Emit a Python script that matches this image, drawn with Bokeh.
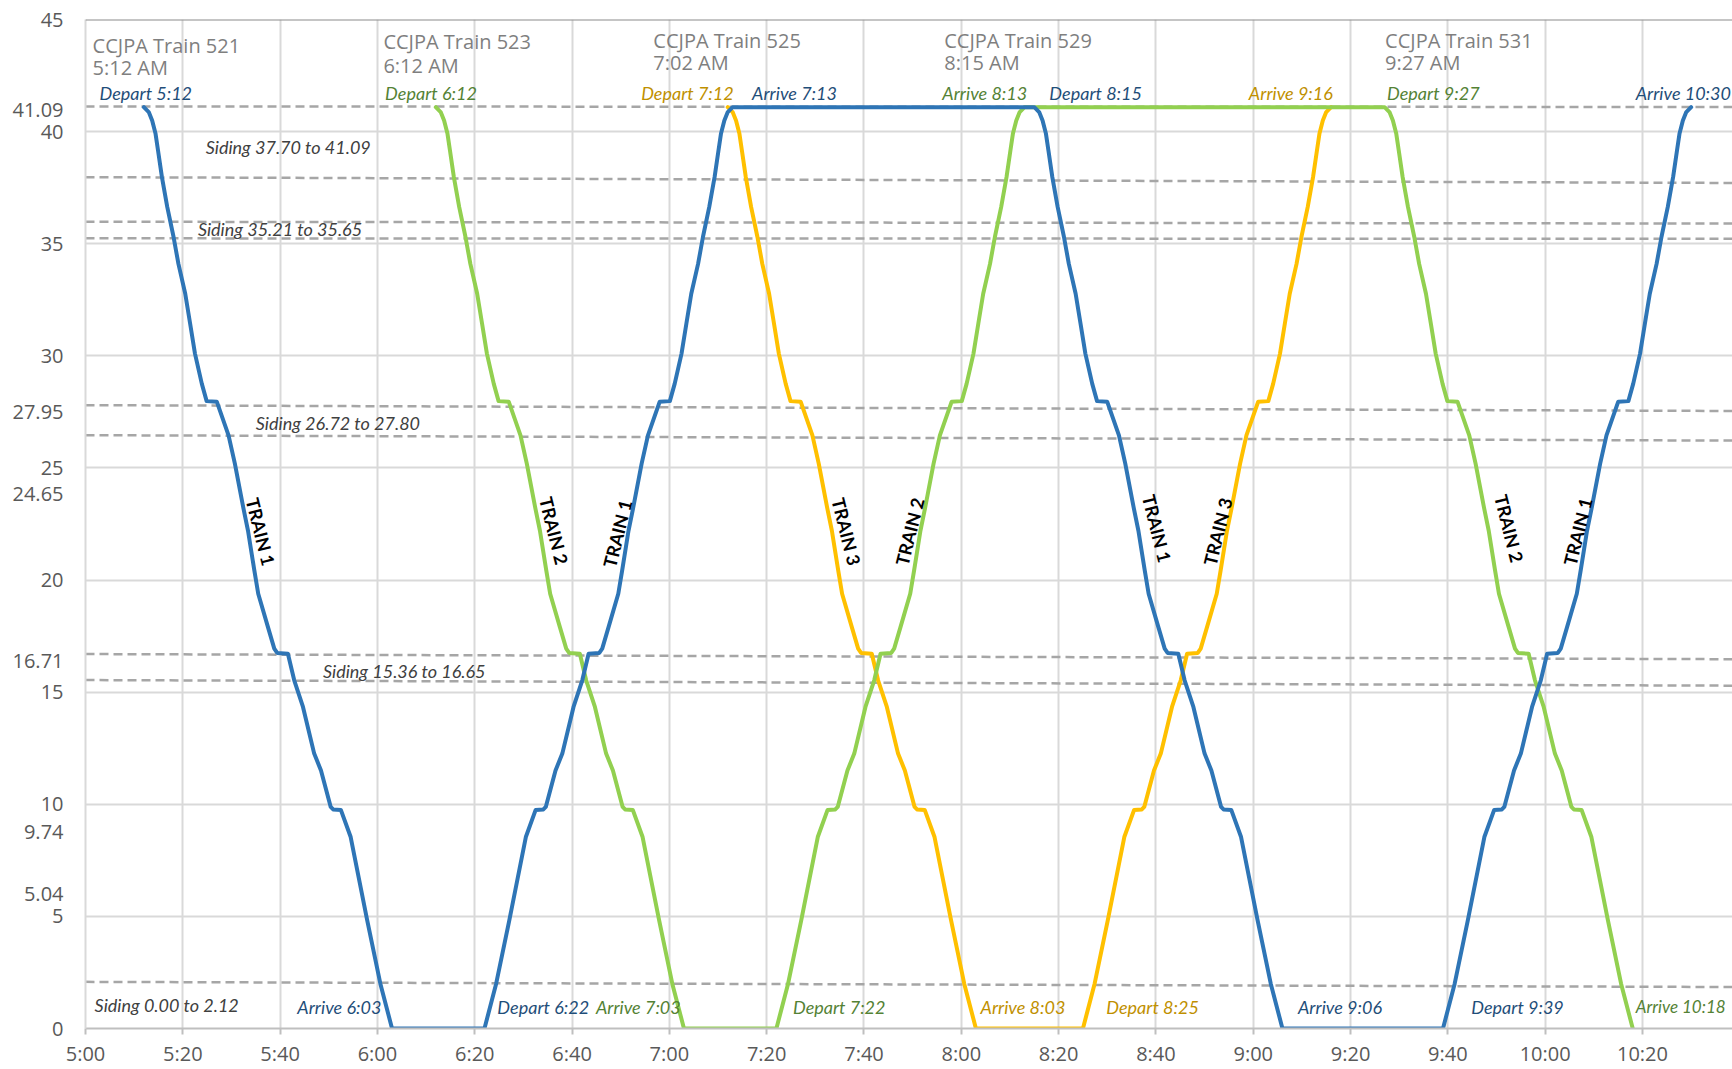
from bokeh.plotting import figure
from bokeh.models import FixedTicker, Span, Range1d, ColumnDataSource
from bokeh.core.properties import value
from bokeh.embed import file_html
from bokeh.resources import INLINE
import math

# ---------------- DATA ----------------
# x axis: minutes after 5:00 AM
x_tick_labels = ["5:00", "5:20", "5:40", "6:00", "6:20", "6:40", "7:00", "7:20", "7:40",
                 "8:00", "8:20", "8:40", "9:00", "9:20", "9:40", "10:00", "10:20"]
y_tick_values = [0, 5, 10, 15, 20, 25, 30, 35, 40, 45]
station_mileposts = ["41.09", "27.95", "24.65", "16.71", "9.74", "5.04"]

# One southbound run (minutes after departure, milepost)
run_minutes = [0, 1.0, 1.7, 2.4, 2.9, 3.7, 4.8, 6.1, 7.1, 8.5, 9.5, 10.5, 11.9, 12.9, 15.0,
               17.4, 18.7, 20.4, 21.4, 22.7, 23.5, 25.5, 26.8, 27.4, 29.6, 30.9, 32.7, 35.0,
               36.4, 38.4, 38.9, 40.5, 42.5, 45.9, 48.6, 51.0]
run_milepost = [41.09, 40.87, 40.50, 39.90, 39.17, 37.98, 36.64, 35.30, 34.10, 32.77, 31.44,
                30.10, 28.76, 27.98, 27.95, 26.45, 25.19, 23.26, 22.20, 20.43, 19.39, 17.90,
                16.94, 16.75, 16.71, 15.53, 14.34, 12.26, 11.51, 9.88, 9.77, 9.74, 8.54, 4.82,
                2.00, 0.00]

train_names = ["TRAIN 1", "TRAIN 2", "TRAIN 3"]
train1_departures = ["5:12", "6:22", "8:15", "9:39"]
train1_directions = ["down", "up", "down", "up"]
train2_departures = ["6:12", "7:22", "9:27"]
train2_directions = ["down", "up", "down"]
train3_departures = ["7:12", "8:25"]
train3_directions = ["down", "up"]

# siding lines as drawn: milepost at 5:00 and at right edge
siding_at_start = [41.12, 37.97, 35.98, 35.24, 27.80, 26.46, 16.70, 15.54, 2.08]
siding_at_end = [41.10, 37.71, 35.90, 35.22, 27.54, 26.22, 16.47, 15.29, 1.85]
siding_names = ["Siding 37.70 to 41.09", "Siding 35.21 to 35.65", "Siding 26.72 to 27.80",
                "Siding 15.36 to 16.65", "Siding 0.00 to 2.12"]

ccjpa_trains = ["CCJPA Train 521", "CCJPA Train 523", "CCJPA Train 525", "CCJPA Train 529",
                "CCJPA Train 531"]
ccjpa_times = ["5:12 AM", "6:12 AM", "7:02 AM", "8:15 AM", "9:27 AM"]

event_texts = ["Depart 5:12", "Depart 6:12", "Depart 7:12", "Arrive 7:13", "Arrive 8:13",
               "Depart 8:15", "Arrive 9:16", "Depart 9:27", "Arrive 10:30",
               "Arrive 6:03", "Depart 6:22", "Arrive 7:03", "Depart 7:22", "Arrive 8:03",
               "Depart 8:25", "Arrive 9:06", "Depart 9:39", "Arrive 10:18"]
event_train = [1, 2, 3, 1, 2, 1, 3, 2, 1, 1, 1, 2, 2, 3, 3, 1, 1, 2]

train_label_names = ["TRAIN 1", "TRAIN 2", "TRAIN 1", "TRAIN 3", "TRAIN 2", "TRAIN 1",
                     "TRAIN 3", "TRAIN 2", "TRAIN 1"]
train_label_dirs = ["down", "down", "up", "down", "up", "down", "up", "down", "up"]

# ---------------- LAYOUT / STYLE ----------------
line_colors = ["#2E75B6", "#92D050", "#FFC000"]
text_colors = ["#1F4E79", "#548235", "#BF9000"]
X_END = 338.5
PX_PER_UNIT = 1009 / 45.0

event_x = [2.88, 61.58, 114.2, 137.0, 176.1, 198.1, 239.1, 267.5, 318.6,
           43.54, 84.65, 104.9, 145.4, 183.95, 209.8, 249.2, 284.8, 318.6]
event_y = [41.71] * 9 + [0.98] * 9
event_size = ["18px"] * 17 + ["17px"]
siding_label_x = [24.7, 23.1, 35.0, 48.8, 1.87]
siding_label_y = [39.30, 35.64, 26.99, 15.95, 1.03]
ccjpa_x = [1.46, 61.23, 116.7, 176.5, 267.1]
ccjpa_y1 = [43.85, 44.00, 44.05, 44.05, 44.05]
ccjpa_y2 = [42.84, 42.95, 43.08, 43.08, 43.08]
train_label_x = [36.0, 96.3, 109.3, 156.4, 169.4, 220.2, 232.7, 292.6, 306.7]
train_label_y = [22.15, 22.2, 22.07, 22.16, 22.16, 22.3, 22.16, 22.3, 22.16]
station_label_shift_px = [3.0, 10.6, 17.8, 7.4, 22.3, -21.9]


def to_min(s):
    h, m = s.split(":")
    return (int(h) - 5) * 60 + int(m)


def build_path(deps, dirs):
    xs, ys = [], []
    total = run_minutes[-1]
    for d, dr in zip(deps, dirs):
        t0 = to_min(d)
        if dr == "down":
            pts = list(zip(run_minutes, run_milepost))
        else:
            pts = [(total - m, v) for m, v in zip(reversed(run_minutes), reversed(run_milepost))]
        for m, v in pts:
            xs.append(t0 + m)
            ys.append(v)
    return xs, ys


p = figure(width=1732, height=1069, x_range=Range1d(0, X_END), y_range=Range1d(0, 45),
           output_backend="svg", toolbar_location=None,
           min_border_left=85, min_border_right=0, min_border_top=19, min_border_bottom=41)
p.outline_line_color = None
p.background_fill_color = "white"
p.border_fill_color = "white"

x_tick_values = [20 * i for i in range(len(x_tick_labels))]
p.xaxis.ticker = FixedTicker(ticks=x_tick_values)
p.xaxis.major_label_overrides = {t: lab for t, lab in zip(x_tick_values, x_tick_labels)}

# y axis: regular ticks plus station mileposts, the latter nudged off their value
station_tick_pos = [round(float(s) - sh / PX_PER_UNIT, 4)
                    for s, sh in zip(station_mileposts, station_label_shift_px)]
p.yaxis.ticker = FixedTicker(ticks=list(y_tick_values) + station_tick_pos)
p.yaxis.major_label_overrides = {v: s for v, s in zip(station_tick_pos, station_mileposts)}

p.xgrid.ticker = FixedTicker(ticks=x_tick_values)
p.ygrid.ticker = FixedTicker(ticks=y_tick_values)
for g in (p.xgrid, p.ygrid):
    g.grid_line_color = "#D9D9D9"
    g.grid_line_width = 2

for ax in (p.xaxis, p.yaxis):
    ax.major_label_text_font = "Open Sans"
    ax.major_label_text_font_size = "20px"
    ax.major_label_text_color = "#595959"
    ax.minor_tick_line_color = None
p.xaxis.axis_line_color = "#BFBFBF"
p.xaxis.axis_line_width = 2
p.xaxis.major_tick_line_color = "#BFBFBF"
p.xaxis.major_tick_line_width = 2
p.xaxis.major_tick_out = 6
p.xaxis.major_tick_in = 0
p.xaxis.major_label_standoff = 5
p.yaxis.axis_line_color = "#D9D9D9"
p.yaxis.axis_line_width = 2
p.yaxis.major_tick_line_color = None
p.yaxis.major_tick_out = 0
p.yaxis.major_tick_in = 0
p.yaxis.major_label_standoff = 22

# top border
p.add_layout(Span(location=45, dimension="width", line_color="#8C8C8C", line_width=2))

# siding lines
p.segment(x0=[0] * len(siding_at_start), y0=siding_at_start,
          x1=[X_END] * len(siding_at_end), y1=siding_at_end,
          line_color="#A6A6A6", line_width=2.5, line_dash="9 5")

# train paths (yellow, green, blue order so blue on top)
paths = [build_path(train1_departures, train1_directions),
         build_path(train2_departures, train2_directions),
         build_path(train3_departures, train3_directions)]
for i in (2, 1, 0):
    xs, ys = paths[i]
    p.line(xs, ys, line_color=line_colors[i], line_width=4, line_join="round",
           line_cap="round")

# siding labels
p.text(x=siding_label_x, y=siding_label_y, text=siding_names,
       text_font=value("Lato"), text_font_style="italic", text_font_size="18px",
       text_color="#404040", text_align="left", text_baseline="middle")

# depart / arrive labels
ev = ColumnDataSource(dict(x=event_x, y=event_y, text=event_texts, size=event_size,
                           color=[text_colors[k - 1] for k in event_train]))
p.text(x="x", y="y", text="text", source=ev, text_color="color",
       text_font=value("Lato"), text_font_style="italic", text_font_size="size",
       text_align="left", text_baseline="middle")

# CCJPA train headers
p.text(x=ccjpa_x, y=ccjpa_y1, text=ccjpa_trains, text_font=value("Open Sans"),
       text_font_size="20px", text_color="#7F7F7F", text_align="left",
       text_baseline="alphabetic")
p.text(x=ccjpa_x, y=ccjpa_y2, text=ccjpa_times, text_font=value("Open Sans"),
       text_font_size="20px", text_color="#7F7F7F", text_align="left",
       text_baseline="alphabetic")

# TRAIN n labels along the lines
ang = math.radians(76)
p.text(x=train_label_x, y=train_label_y, text=train_label_names,
       angle=[-ang if d == "down" else ang for d in train_label_dirs],
       text_font=value("Lato"), text_font_style="bold", text_font_size="18px",
       text_color="#000000", text_align="center", text_baseline="middle")

open("out.html", "w").write(file_html(p, INLINE))
